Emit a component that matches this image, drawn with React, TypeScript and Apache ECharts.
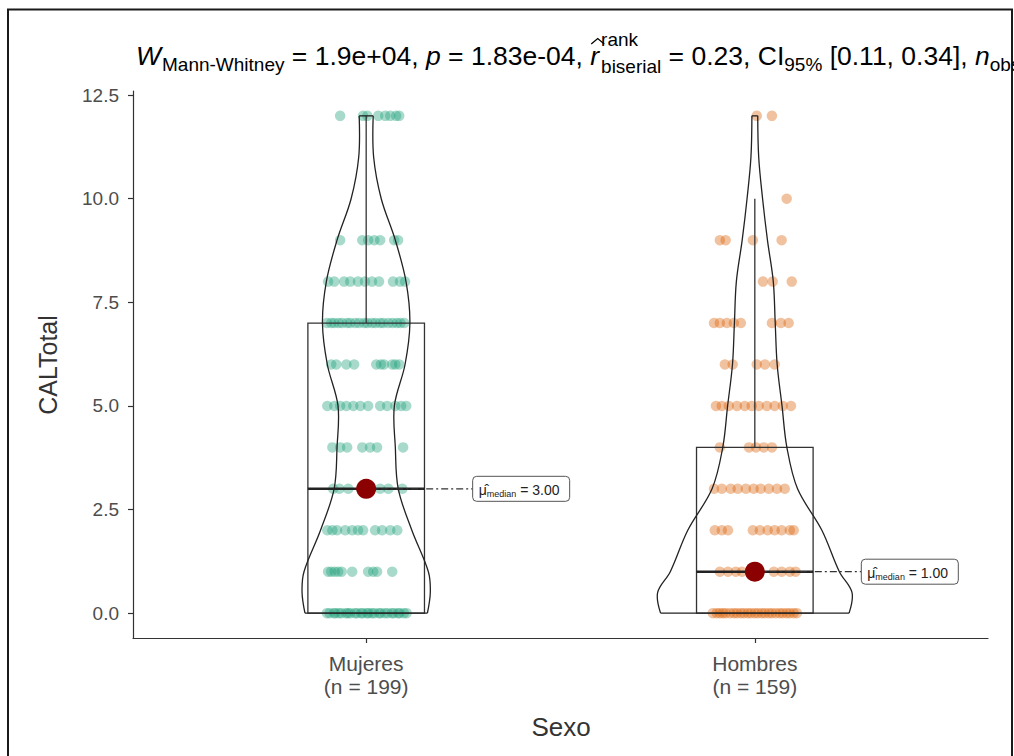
import React, { useEffect, useRef } from "react";
import * as echarts from "echarts";

// ---------------- data ----------------
const categories = ["Mujeres", "Hombres"];
const groupSizes = [199, 159];
const yTickValues = [0, 2.5, 5, 7.5, 10, 12.5];

const boxQ1 = [0, 0];
const boxMedian = [3, 1];
const boxQ3 = [7, 4];
const whiskerLow = [0, 0];
const whiskerHigh = [12, 10];

// relative violin density (1 = widest point across groups) at each level
const violinLevels = [0, 0.5, 1, 2, 3, 4, 5, 6, 7, 8, 9, 10, 11, 12];
const mujeresDensity = [0.63, 0.66, 0.64, 0.47, 0.33, 0.3, 0.29, 0.4, 0.45, 0.41, 0.3, 0.155, 0.077, 0.072];
const hombresDensity = [0.97, 1.0, 0.87, 0.69, 0.44, 0.33, 0.28, 0.23, 0.21, 0.19, 0.13, 0.08, 0.04, 0.03];

// jittered observations: row value and horizontal jitter (category units)
const mujeresRowValues = [0, 1, 2, 3, 4, 5, 6, 7, 8, 9, 12];
const mujeresJitter = [
  [-0.101, -0.094, -0.083, -0.079, -0.07, -0.064, -0.052, -0.047, -0.041, -0.029, -0.024, -0.013, -0.009, 0.002, 0.006, 0.015, 0.021, 0.033, 0.037, 0.048, 0.055, 0.066, 0.071, 0.082, 0.086, 0.097, 0.104],
  [-0.098, -0.09, -0.081, -0.072, -0.063, -0.036, 0.005, 0.018, 0.028, 0.067],
  [-0.1, -0.087, -0.075, -0.054, -0.036, -0.021, -0.008, 0.023, 0.041, 0.062, 0.08],
  [-0.085, -0.069, -0.046, -0.013, 0.01, 0.036, 0.057, 0.093],
  [-0.087, -0.067, -0.049, -0.01, 0.01, 0.028, 0.095],
  [-0.1, -0.082, -0.067, -0.051, -0.033, -0.015, 0.005, 0.036, 0.054, 0.075, 0.09, 0.103],
  [-0.09, -0.077, -0.051, -0.031, 0.026, 0.038, 0.046, 0.067, 0.075, 0.085],
  [-0.101, -0.09, -0.082, -0.071, -0.062, -0.049, -0.041, -0.028, -0.018, -0.005, 0.003, 0.015, 0.024, 0.036, 0.044, 0.057, 0.068, 0.079, 0.088, 0.098],
  [-0.098, -0.082, -0.057, -0.041, -0.021, -0.003, 0.015, 0.033, 0.069, 0.087, 0.1],
  [-0.067, -0.01, 0.005, 0.021, 0.036, 0.072, 0.082],
  [-0.067, -0.008, 0.003, 0.031, 0.049, 0.062, 0.077, 0.085],
];
const hombresRowValues = [0, 1, 2, 3, 4, 5, 6, 7, 8, 9, 10, 12];
const hombresJitter = [
  [-0.108, -0.098, -0.09, -0.082, -0.075, -0.064, -0.054, -0.046, -0.036, -0.028, -0.018, -0.01, 0.0, 0.008, 0.018, 0.026, 0.036, 0.044, 0.054, 0.064, 0.072, 0.082, 0.09, 0.1, 0.108],
  [-0.09, -0.069, -0.049, -0.033, -0.008, 0.01, 0.049, 0.069, 0.09, 0.105],
  [-0.103, -0.085, -0.069, -0.005, 0.013, 0.033, 0.051, 0.069, 0.09, 0.1],
  [-0.105, -0.085, -0.062, -0.044, -0.023, -0.003, 0.015, 0.036, 0.057, 0.077],
  [-0.09, -0.015, 0.003, 0.023, 0.044],
  [-0.1, -0.085, -0.067, -0.046, -0.026, -0.008, 0.01, 0.031, 0.051, 0.072, 0.093],
  [-0.077, -0.057, 0.005, 0.026, 0.051],
  [-0.105, -0.09, -0.072, -0.054, -0.036, 0.044, 0.067, 0.087],
  [0.021, 0.046, 0.095],
  [-0.09, -0.075, -0.005, 0.069],
  [0.082],
  [0.005, 0.044],
];

// statistics shown in the subtitle
const statW = "1.9e+04";
const statP = "1.83e-04";
const statR = "0.23";
const statCI = ["0.11", "0.34"];

const groupColors = ["#1B9E77", "#D95F02"];

// ---------------- helpers ----------------
const FONT = "'Liberation Sans', Arial, Helvetica, sans-serif";

function buildPoints(rowValues: number[], jitter: number[][], gx: number) {
  const out: number[][] = [];
  rowValues.forEach((v, i) => jitter[i].forEach((o) => out.push([gx + o, v])));
  return out;
}

function textEl(text: string, x: number, y: number, font: string, fill = "#000") {
  return {
    type: "text",
    x,
    y,
    silent: true,
    style: {
      text,
      font,
      fill,
      align: "left",
      verticalAlign: "middle",
      textAlign: "left",
      textVerticalAlign: "middle",
    },
  };
}

function buildTitle() {
  const ctx = document.createElement("canvas").getContext("2d") as CanvasRenderingContext2D;
  const M = 26.5;
  const S = 19;
  const fMain = `${M}px ${FONT}`;
  const fIt = `italic ${M}px ${FONT}`;
  const fSub = `${S}px ${FONT}`;
  const width = (t: string, f: string) => {
    ctx.font = f;
    return ctx.measureText(t).width;
  };
  const yMain = 56;
  const ySub = 64.5;
  const ySup = 39;
  const yLow = 66.5;
  const els: any[] = [];
  let x = 136;
  const put = (t: string, f: string, y: number, extra = 0) => {
    els.push(textEl(t, x, y, f));
    x += width(t, f) + extra;
  };
  put("W", fIt, yMain, 1);
  put("Mann-Whitney", fSub, ySub);
  put(` = ${statW}, `, fMain, yMain);
  put("p", fIt, yMain);
  put(` = ${statP}, `, fMain, yMain);
  const rx = x;
  put("r", fIt, yMain, 2);
  els.push({
    type: "polyline",
    silent: true,
    shape: { points: [[rx + 1, 44], [rx + 7.5, 38.5], [rx + 14, 44]] },
    style: { stroke: "#000", lineWidth: 1.3, fill: "none" },
  });
  els.push(textEl("rank", x, ySup, fSub));
  const wb = width("biserial", fSub);
  els.push(textEl("biserial", x, yLow, fSub));
  x += wb;
  put(` = ${statR}, `, fMain, yMain);
  put("CI", fMain, yMain);
  put("95%", fSub, ySub);
  put(` [${statCI[0]}, ${statCI[1]}], `, fMain, yMain);
  put("n", fIt, yMain);
  put("obs", fSub, ySub);
  return els;
}

export default function App() {
  const ref = useRef<HTMLDivElement>(null);

  useEffect(() => {
    if (!ref.current) return;
    const chart = echarts.init(ref.current, null, { renderer: "svg" });
    const densities = [mujeresDensity, hombresDensity];

    const violinSeries = {
      type: "custom",
      data: [[1, 0], [2, 1]],
      silent: true,
      z: 4,
      renderItem: (params: any, api: any) => {
        const gx = api.value(0);
        const dens = densities[api.value(1)];
        const left = violinLevels.map((lv, i) => api.coord([gx - dens[i] * 0.25, lv]));
        const right = violinLevels.map((lv, i) => api.coord([gx + dens[i] * 0.25, lv]));
        const n = violinLevels.length;
        const st = { stroke: "#222", lineWidth: 1.3, fill: "none" };
        return {
          type: "group",
          children: [
            { type: "polyline", shape: { points: left, smooth: 0.35 }, style: st },
            { type: "polyline", shape: { points: right, smooth: 0.35 }, style: st },
            { type: "line", shape: { x1: left[0][0], y1: left[0][1], x2: right[0][0], y2: right[0][1] }, style: st },
            { type: "line", shape: { x1: left[n - 1][0], y1: left[n - 1][1], x2: right[n - 1][0], y2: right[n - 1][1] }, style: st },
          ],
        };
      },
    };

    const boxSeries = {
      type: "custom",
      data: [[1, 0], [2, 1]],
      silent: true,
      z: 3,
      renderItem: (params: any, api: any) => {
        const gx = api.value(0);
        const g = api.value(1);
        const a = api.coord([gx - 0.15, boxQ3[g]]);
        const b = api.coord([gx + 0.15, boxQ1[g]]);
        const m1 = api.coord([gx - 0.15, boxMedian[g]]);
        const m2 = api.coord([gx + 0.15, boxMedian[g]]);
        const wTop = api.coord([gx, whiskerHigh[g]]);
        const wQ3 = api.coord([gx, boxQ3[g]]);
        const wLow = api.coord([gx, whiskerLow[g]]);
        const wQ1 = api.coord([gx, boxQ1[g]]);
        const st = { stroke: "#333", lineWidth: 1.3, fill: "none" };
        return {
          type: "group",
          children: [
            { type: "rect", shape: { x: a[0], y: a[1], width: b[0] - a[0], height: b[1] - a[1] }, style: st },
            { type: "line", shape: { x1: wQ3[0], y1: wQ3[1], x2: wTop[0], y2: wTop[1] }, style: st },
            { type: "line", shape: { x1: wQ1[0], y1: wQ1[1], x2: wLow[0], y2: wLow[1] }, style: st },
            { type: "line", shape: { x1: m1[0], y1: m1[1], x2: m2[0], y2: m2[1] }, style: { stroke: "#222", lineWidth: 2.6 } },
          ],
        };
      },
    };

    const labelSeries = {
      type: "custom",
      data: [[1, boxMedian[0]], [2, boxMedian[1]]],
      silent: true,
      z: 6,
      renderItem: (params: any, api: any) => {
        const gx = api.value(0);
        const med = api.value(1);
        const p = api.coord([gx, med]);
        const q = api.coord([gx + 0.274, med]);
        return {
          type: "group",
          children: [
            { type: "line", shape: { x1: p[0], y1: p[1], x2: q[0], y2: p[1] }, style: { stroke: "#333", lineWidth: 1.2, lineDash: [7, 3, 2, 3] } },
            { type: "rect", shape: { x: q[0], y: p[1] - 12.5, width: 97, height: 25, r: 4 }, style: { fill: "#fff", stroke: "#555", lineWidth: 1 } },
            {
              type: "text",
              x: q[0] + 6,
              y: p[1] + 1,
              style: {
                text: `{mu|\u03BC\u0302}{sub|median}{v| = ${med.toFixed(2)}}`,
                align: "left",
                verticalAlign: "middle",
                textAlign: "left",
                textVerticalAlign: "middle",
                rich: {
                  mu: { font: `14px ${FONT}`, fill: "#222", lineHeight: 18, verticalAlign: "middle" },
                  sub: { font: `9px ${FONT}`, fill: "#222", lineHeight: 18, verticalAlign: "bottom" },
                  v: { font: `14px ${FONT}`, fill: "#222", lineHeight: 18, verticalAlign: "middle" },
                },
              },
            },
          ],
        };
      },
    };

    const option: any = {
      animation: false,
      backgroundColor: "#fff",
      grid: { left: 133, right: 26, top: 91, bottom: 118, containLabel: false },
      xAxis: {
        type: "value",
        min: 0.4,
        max: 2.6,
        splitLine: { show: false },
        axisLine: { show: true, onZero: false, lineStyle: { color: "#333", width: 1.2 } },
        axisTick: { show: true, length: 5, customValues: [1, 2], lineStyle: { color: "#333", width: 1.2 } },
        axisLabel: {
          customValues: [1, 2],
          margin: 14,
          color: "#4D4D4D",
          fontFamily: FONT,
          fontSize: 21,
          lineHeight: 23,
          formatter: (v: number) => {
            const i = Math.round(v) - 1;
            return `${categories[i]}\n(n = ${groupSizes[i]})`;
          },
        },
      },
      yAxis: {
        type: "value",
        min: -0.6,
        max: 12.6,
        splitLine: { show: false },
        axisLine: { show: true, onZero: false, lineStyle: { color: "#333", width: 1.2 } },
        axisTick: { show: true, length: 5, customValues: yTickValues, lineStyle: { color: "#333", width: 1.2 } },
        axisLabel: {
          customValues: yTickValues,
          margin: 14,
          color: "#4D4D4D",
          fontFamily: FONT,
          fontSize: 19,
          formatter: (v: number) => v.toFixed(1),
        },
      },
      series: [
        {
          type: "scatter",
          data: buildPoints(mujeresRowValues, mujeresJitter, 1),
          symbolSize: 10.5,
          itemStyle: { color: groupColors[0], opacity: 0.38 },
          silent: true,
          z: 2,
        },
        {
          type: "scatter",
          data: buildPoints(hombresRowValues, hombresJitter, 2),
          symbolSize: 10.5,
          itemStyle: { color: groupColors[1], opacity: 0.38 },
          silent: true,
          z: 2,
        },
        boxSeries,
        violinSeries,
        labelSeries,
        {
          type: "scatter",
          data: [[1, boxMedian[0]], [2, boxMedian[1]]],
          symbolSize: 20,
          itemStyle: { color: "#8B0000", opacity: 1 },
          silent: true,
          z: 7,
        },
      ],
      graphic: [
        {
          type: "polyline",
          silent: true,
          shape: { points: [[8, 770], [8, 9.5], [1012, 9.5], [1012, 770]] },
          style: { stroke: "#1a1a1a", lineWidth: 2, fill: "none" },
        },
        ...buildTitle(),
        {
          type: "text",
          x: 48,
          y: 365,
          rotation: Math.PI / 2,
          silent: true,
          style: {
            text: "CALTotal",
            font: `25px ${FONT}`,
            fill: "#333",
            align: "center",
            verticalAlign: "middle",
            textAlign: "center",
            textVerticalAlign: "middle",
          },
        },
        {
          type: "text",
          x: 561,
          y: 727,
          silent: true,
          style: {
            text: "Sexo",
            font: `26px ${FONT}`,
            fill: "#333",
            align: "center",
            verticalAlign: "middle",
            textAlign: "center",
            textVerticalAlign: "middle",
          },
        },
      ],
    };

    chart.setOption(option);
    return () => chart.dispose();
  }, []);

  return (
    <div
      ref={ref}
      style={{ position: "fixed", left: 0, top: 0, width: 1014, height: 756, background: "#fff" }}
    />
  );
}
